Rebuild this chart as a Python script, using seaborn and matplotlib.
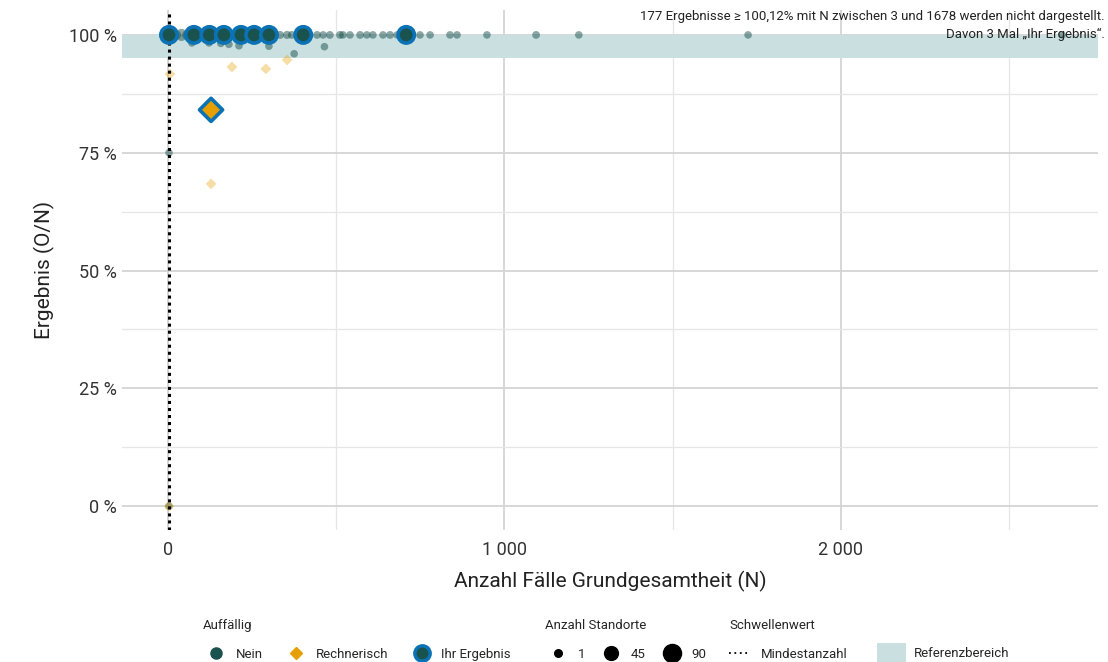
import pandas as pd
import matplotlib.pyplot as plt
import seaborn as sns
from matplotlib.lines import Line2D
from matplotlib.patches import Patch
from matplotlib.ticker import FixedLocator

sns.set_theme(style="whitegrid")
plt.rcParams["font.family"] = ["Roboto", "DejaVu Sans"]

GREEN = "#1a524e"
ORANGE = "#e69f00"
BLUE = "#0b72b5"
BAND = "#c9dfe0"

# Standorte ohne Auffaelligkeit: N, Ergebnis (%), Anzahl Standorte
nein_n = [3, 12, 25, 40, 55, 71, 85, 100, 112, 123, 140, 152, 166, 180, 195,
          217, 235, 256, 275, 300, 318, 333, 354, 368, 392, 402, 420, 443, 461,
          481, 511, 520, 541, 571, 591, 609, 639, 660, 681, 708, 749, 779, 838,
          859, 948, 1094, 1221, 1724, 2657,
          71, 122, 157, 181, 211, 300, 375, 465, 3, 3]
nein_y = [100, 100, 100, 100, 100, 100, 100, 100, 100, 100, 100, 100, 100, 100,
          100, 100, 100, 100, 100, 100, 100, 100, 100, 100, 100, 100, 100, 100,
          100, 100, 100, 100, 100, 100, 100, 100, 100, 100, 100, 100, 100, 100,
          100, 100, 100, 100, 100, 100, 100,
          98.3, 98.3, 98.2, 98.0, 97.7, 97.6, 96.0, 97.5, 75.0, 0.0]
nein_cnt = [90, 20, 12, 30, 8, 45, 15, 25, 10, 40, 12, 8, 35, 6, 10,
            30, 5, 25, 4, 20, 3, 3, 4, 2, 2, 15, 2, 2, 1,
            2, 2, 1, 1, 2, 1, 1, 1, 2, 1, 10, 1, 1, 1,
            1, 1, 2, 1, 1, 1,
            1, 1, 1, 1, 1, 1, 1, 1, 1, 1]

# rechnerisch auffaellige Standorte
rech_n = [6, 190, 291, 354, 128, 3]
rech_y = [91.7, 93.2, 92.8, 94.7, 68.4, 0.0]
rech_cnt = [1, 1, 1, 1, 1, 1]

# "Ihr Ergebnis"
ihr_n = [3, 77, 123, 166, 217, 256, 300, 402, 708, 128]
ihr_y = [100, 100, 100, 100, 100, 100, 100, 100, 100, 84.1]
ihr_cnt = [70, 70, 70, 70, 70, 70, 70, 70, 70, 70]
ihr_typ = ["Nein", "Nein", "Nein", "Nein", "Nein", "Nein", "Nein", "Nein",
           "Nein", "Rechnerisch"]

mindestanzahl = 3
ref_low, ref_high = 95, 100

df_nein = pd.DataFrame({"N": nein_n, "Ergebnis": nein_y, "Anzahl": nein_cnt})
df_rech = pd.DataFrame({"N": rech_n, "Ergebnis": rech_y, "Anzahl": rech_cnt})
df_ihr = pd.DataFrame({"N": ihr_n, "Ergebnis": ihr_y, "Anzahl": ihr_cnt,
                       "Auffällig": ihr_typ})

SIZES = (30, 170)
NORM = (1, 90)

fig = plt.figure(figsize=(11.08, 6.62), dpi=100)
ax = fig.add_axes([0.110, 0.199, 0.881, 0.786])

ax.axhspan(ref_low, ref_high, color=BAND, zorder=1, lw=0)

sns.scatterplot(data=df_nein, x="N", y="Ergebnis", size="Anzahl", sizes=SIZES,
                size_norm=NORM, color=GREEN, alpha=0.5, linewidth=0,
                legend=False, ax=ax, zorder=3)
sns.scatterplot(data=df_rech, x="N", y="Ergebnis", size="Anzahl", sizes=SIZES,
                size_norm=NORM, color=ORANGE, alpha=0.35, marker="D",
                linewidth=0, legend=False, ax=ax, zorder=3)
sns.scatterplot(data=df_ihr, x="N", y="Ergebnis", size="Anzahl", sizes=SIZES,
                size_norm=NORM, hue="Auffällig", style="Auffällig",
                palette={"Nein": GREEN, "Rechnerisch": ORANGE},
                markers={"Nein": "o", "Rechnerisch": "D"},
                edgecolor=BLUE, linewidth=2.6, legend=False, ax=ax, zorder=5)

ax.axvline(mindestanzahl, color="black", ls=(0, (1, 1.3)), lw=2.2, zorder=4)

ax.set_xlim(-137, 2764)
ax.set_ylim(-5.1, 105.3)
ax.set_xticks([0, 1000, 2000])
ax.set_xticklabels(["0", "1 000", "2 000"])
ax.xaxis.set_minor_locator(FixedLocator([500, 1500, 2500]))
ax.set_yticks([0, 25, 50, 75, 100])
ax.set_yticklabels(["0 %", "25 %", "50 %", "75 %", "100 %"])
ax.yaxis.set_minor_locator(FixedLocator([12.5, 37.5, 62.5, 87.5]))
ax.grid(which="major", color="#d4d4d4", lw=1.3)
ax.grid(which="minor", color="#e6e6e6", lw=0.9)
ax.set_axisbelow(True)
for s in ax.spines.values():
    s.set_visible(False)
ax.tick_params(axis="both", which="both", length=0, labelsize=13,
               colors="#333333")
ax.tick_params(axis="x", pad=8)
ax.set_xlabel("Anzahl Fälle Grundgesamtheit (N)", fontsize=15, color="#222222",
              labelpad=8)
ax.set_ylabel("Ergebnis (O/N)", fontsize=15, color="#222222", labelpad=10)

fig.text(1105 / 1108, 1 - 10 / 662,
         "177 Ergebnisse ≥ 100,12% mit N zwischen 3 und 1678 werden nicht dargestellt.\n"
         "Davon 3 Mal „Ihr Ergebnis“.",
         ha="right", va="top", fontsize=9.5, color="#222222", linespacing=1.5)

# Legende
leg_kw = dict(frameon=False, fontsize=9.5, title_fontsize=9.5,
              loc="upper left", handletextpad=0.5, columnspacing=1.5,
              labelspacing=1.2, alignment="left", borderaxespad=0)
anchor_y = 1 - 614 / 662

h_auff = [Line2D([], [], marker="o", ls="", color=GREEN, markersize=8),
          Line2D([], [], marker="D", ls="", color=ORANGE, markersize=6),
          Line2D([], [], marker="o", ls="", color=GREEN, markersize=11,
                 markeredgecolor=BLUE, markeredgewidth=2.5)]
fig.legend(h_auff, ["Nein", "Rechnerisch", "Ihr Ergebnis"], ncol=3,
           title="Auffällig", bbox_to_anchor=(198 / 1108, anchor_y), **leg_kw)

cnt_vals = [1, 45, 90]
h_size = [Line2D([], [], marker="o", ls="", color="black",
                 markersize=(SIZES[0] + (v - NORM[0]) / (NORM[1] - NORM[0])
                             * (SIZES[1] - SIZES[0])) ** 0.5)
          for v in cnt_vals]
fig.legend(h_size, [str(v) for v in cnt_vals], ncol=3,
           title="Anzahl Standorte", bbox_to_anchor=(540 / 1108, anchor_y),
           **{**leg_kw, "columnspacing": 1.0, "handletextpad": 0.45})

h_sw = [Line2D([], [], color="black", ls=(0, (1, 2)), lw=1.3)]
fig.legend(h_sw, ["Mindestanzahl"], title="Schwellenwert", handlelength=1.6,
           bbox_to_anchor=(724 / 1108, anchor_y),
           **{**leg_kw, "handletextpad": 0.8})

h_ref = [Patch(facecolor=BAND, edgecolor="none")]
fig.legend(h_ref, ["Referenzbereich"], title=" ", handlelength=2.2,
           handleheight=1.8, bbox_to_anchor=(872 / 1108, anchor_y),
           **{**leg_kw, "handletextpad": 0.6, "labelspacing": 0.85})

fig.savefig("out.png", dpi=100)
